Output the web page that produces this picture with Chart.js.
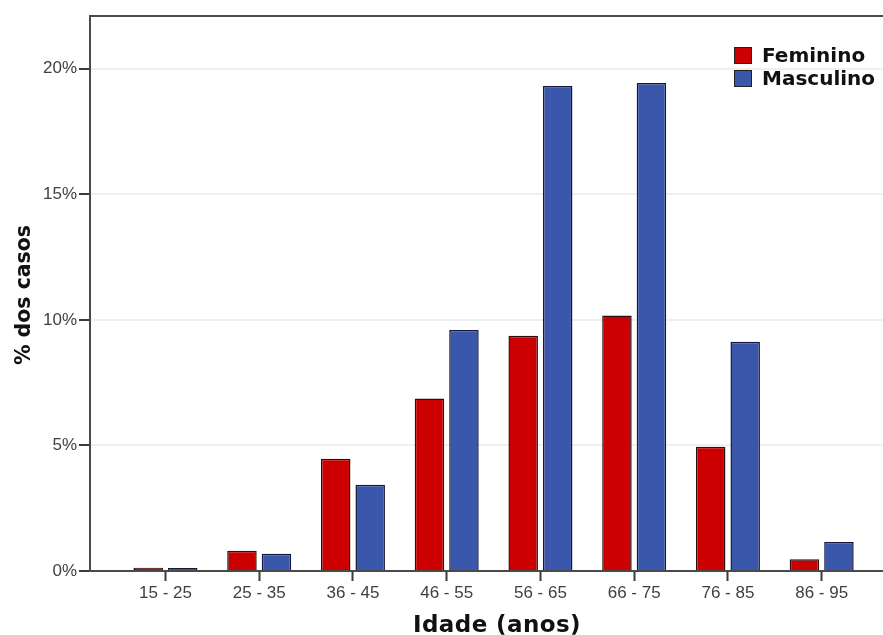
<!DOCTYPE html>
<html>
<head>
<meta charset="utf-8">
<script src="https://cdn.jsdelivr.net/npm/chart.js@4/dist/chart.umd.min.js"></script>
<style>
html,body{margin:0;padding:0;background:#fff;overflow:hidden;}
#wrap{position:relative;width:883px;height:635px;}
</style>
</head>
<body>
<div id="wrap"><canvas id="c" width="883" height="635"></canvas></div>
<script>
const categories = ['15 - 25','25 - 35','36 - 45','46 - 55','56 - 65','66 - 75','76 - 85','86 - 95'];
const feminino  = [0.13, 0.81, 4.47, 6.87, 9.37, 10.17, 4.95, 0.47];
const masculino = [0.12, 0.69, 3.43, 9.60, 19.31, 19.43, 9.13, 1.15];
const yTicks = [0, 5, 10, 15, 20];
const seriesNames = ['Feminino', 'Masculino'];
const seriesColors = ['#cc0000', '#3b57ab'];

const toPoints = arr => arr.map((v, i) => ({x: i, y: v}));

const decor = {
  id: 'decor',
  afterDraw(chart) {
    const ctx = chart.ctx;
    const a = chart.chartArea;
    ctx.save();
    // top border
    ctx.strokeStyle = '#4a4a4a';
    ctx.lineWidth = 2;
    ctx.beginPath();
    ctx.moveTo(a.left - 1, a.top);
    ctx.lineTo(chart.width, a.top);
    ctx.stroke();

    // axis titles
    ctx.fillStyle = '#111';
    ctx.textAlign = 'center';
    ctx.textBaseline = 'alphabetic';
    ctx.font = 'bold 23px "DejaVu Sans"';
    const xt = 'Idade (anos)';
    let w = ctx.measureText(xt).width;
    ctx.letterSpacing = ((168 - w) / xt.length).toFixed(2) + 'px';
    ctx.fillText(xt, 497, 632);
    ctx.letterSpacing = '0px';

    const yt = '% dos casos';
    ctx.font = 'bold 20.5px "DejaVu Sans"';
    w = ctx.measureText(yt).width;
    ctx.translate(30, 295);
    ctx.rotate(-Math.PI / 2);
    ctx.letterSpacing = ((140 - w) / yt.length).toFixed(2) + 'px';
    ctx.fillText(yt, 0, 0);
    ctx.letterSpacing = '0px';
    ctx.setTransform(1, 0, 0, 1, 0, 0);

    // legend
    ctx.textAlign = 'left';
    ctx.font = 'bold 20px "DejaVu Sans"';
    chart.data.datasets.forEach((ds, i) => {
      const y = 47 + i * 23;
      ctx.fillStyle = ds.backgroundColor;
      ctx.fillRect(734, y, 18, 17);
      ctx.strokeStyle = '#222';
      ctx.lineWidth = 1;
      ctx.strokeRect(734.5, y + 0.5, 17, 16);
      ctx.fillStyle = '#111';
      ctx.fillText(ds.label, 762, y + 15);
    });
    ctx.restore();
  }
};

new Chart(document.getElementById('c'), {
  type: 'bar',
  data: {
    datasets: [
      {label: seriesNames[0], data: toPoints(feminino), backgroundColor: seriesColors[0], borderColor: '#2a1010', borderWidth: 1.5},
      {label: seriesNames[1], data: toPoints(masculino), backgroundColor: seriesColors[1], borderColor: '#15183a', borderWidth: 1.5}
    ]
  },
  options: {
    responsive: false,
    animation: false,
    events: [],
    layout: {padding: {top: 16, left: 0, right: 0, bottom: 0}},
    plugins: {legend: {display: false}, tooltip: {enabled: false}},
    datasets: {bar: {categoryPercentage: 0.736, barPercentage: 0.855}},
    scales: {
      x: {
        type: 'linear',
        offset: false,
        min: -0.805,
        max: 7.654,
        afterFit(s) { s.height = 64; },
        afterBuildTicks(s) { s.ticks = categories.map((_, i) => ({value: i})); },
        ticks: {
          callback: v => categories[v] ?? '',
          font: {family: '"Liberation Sans"', size: 17},
          color: '#404040',
          padding: 2,
          maxRotation: 0,
          autoSkip: false
        },
        grid: {offset: false, drawOnChartArea: false, drawTicks: true, tickLength: 10, tickColor: '#3a3a3a', tickWidth: 2},
        border: {display: true, color: '#4a4a4a', width: 2}
      },
      y: {
        min: 0,
        max: 22.1,
        afterFit(s) { s.width = 90; },
        afterBuildTicks(s) { s.ticks = yTicks.map(v => ({value: v})); },
        ticks: {
          callback: v => v + '%',
          font: {family: '"Liberation Sans"', size: 17},
          color: '#404040',
          padding: 2
        },
        grid: {color: '#efefef', lineWidth: 2, tickLength: 11, tickColor: '#3a3a3a', tickWidth: 2},
        border: {display: true, color: '#4a4a4a', width: 2}
      }
    }
  },
  plugins: [decor]
});
</script>
</body>
</html>
